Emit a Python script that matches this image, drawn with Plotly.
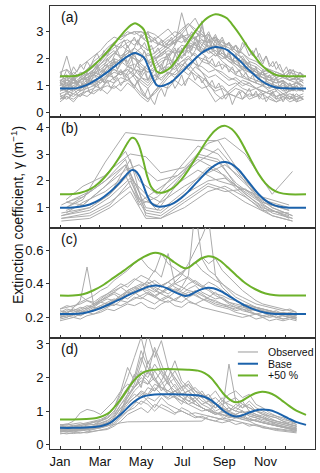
import plotly.graph_objects as go
from plotly.subplots import make_subplots

# month ticks (day of year)
MAJOR_DAYS = [1, 60, 121, 182, 244, 305]
MAJOR_LABELS = ["Jan", "Mar", "May", "Jul", "Sep", "Nov"]
MINOR_DAYS = [32, 91, 152, 213, 274, 335]

# ---- panel (a) ----
days_a = list(range(1, 362, 10))
obs_a = [
    [1.0, 1.1, 0.9, 1.2, 1.3, 1.5, 1.4, 1.7, 1.9, 1.8, 2.1, 2.0, 1.9, 2.2, 2.0, 2.1, 2.3, 2.2, 2.5, 2.4, 2.6, 2.3, 2.5, 2.2, 2.0, 2.1, 1.8, 1.7, 1.5, 1.4, 1.3, 1.2, 1.1, 1.2, 1.0, 1.1, 1.0],
    [1.2, 1.3, 1.2, 1.4, 1.6, 1.9, 2.1, 2.4, 2.6, 2.8, 3.0, 2.9, 3.0, 2.8, 2.6, 2.5, 2.7, 2.6, 2.8, 2.9, 2.7, 2.6, 2.4, 2.5, 2.2, 2.0, 1.9, 1.7, 1.6, 1.4, 1.5, 1.3, 1.2, 1.3, 1.2, 1.1, 1.2],
    [0.6, 0.5, 0.7, 0.6, 0.8, 0.7, 0.9, 1.0, 0.9, 1.1, 1.2, 1.0, 1.3, 1.1, 1.4, 1.2, 1.5, 1.3, 1.6, 1.4, 1.7, 1.5, 1.3, 1.4, 1.2, 1.0, 1.1, 0.9, 0.8, 0.9, 0.7, 0.8, 0.6, 0.7, 0.6, 0.5, 0.6],
    [1.3, 2.1, 1.2, 1.1, 1.3, 1.4, 1.6, 1.8, 2.0, 1.9, 1.7, 1.6, 1.5, 1.8, 2.0, 2.2, 2.4, 2.6, 2.9, 3.2, 3.5, 3.0, 2.7, 2.5, 2.3, 2.0, 1.8, 1.6, 1.5, 1.4, 1.3, 1.2, 1.4, 1.3, 1.2, 1.3, 1.1],
    [0.9, 0.8, 1.0, 0.9, 1.1, 1.3, 1.5, 1.7, 1.8, 2.0, 1.9, 2.2, 2.1, 1.9, 1.8, 2.0, 2.1, 2.3, 2.2, 2.4, 2.6, 2.7, 2.4, 2.3, 2.1, 1.9, 1.7, 1.4, 1.2, 1.1, 1.0, 0.9, 1.0, 0.8, 0.9, 0.8, 0.9],
    [0.5, 0.6, 0.4, 0.7, 0.6, 0.8, 0.9, 0.7, 1.0, 0.8, 1.1, 0.9, 0.6, 0.4, 0.8, 1.0, 0.9, 1.2, 1.0, 1.3, 1.1, 0.9, 1.0, 0.8, 0.9, 0.7, 0.6, 0.8, 0.5, 0.6, 0.7, 0.5, 0.4, 0.6, 0.5, 0.7, 0.5],
    [1.4, 1.2, 1.5, 1.3, 1.6, 1.8, 2.0, 2.3, 2.5, 2.4, 2.6, 2.7, 2.5, 2.3, 2.4, 2.6, 2.8, 3.0, 2.9, 2.7, 2.8, 2.9, 2.6, 2.7, 2.5, 2.4, 2.2, 2.0, 1.8, 1.7, 1.5, 1.6, 1.4, 1.3, 1.5, 1.4, 1.3],
    [1.1, 1.0, 1.2, 1.0, 1.1, 1.2, 1.3, 1.5, 1.6, 1.4, 1.7, 1.8, 1.6, 1.5, 1.7, 1.9, 2.0, 1.8, 2.1, 2.3, 2.1, 2.0, 1.9, 1.7, 1.8, 1.6, 1.4, 1.3, 1.2, 1.1, 1.0, 1.1, 0.9, 1.0, 0.9, 1.0, 0.8],
    [0.8, 0.9, 1.1, 1.0, 1.2, 1.4, 1.3, 1.6, 1.8, 2.0, 2.2, 2.0, 1.7, 1.5, 1.6, 1.8, 2.1, 2.5, 3.7, 2.8, 2.5, 2.2, 2.0, 2.2, 1.9, 1.7, 1.5, 1.6, 1.3, 1.2, 1.1, 1.0, 0.9, 1.1, 0.8, 0.9, 0.8],
    [0.7, 0.8, 0.7, 0.9, 1.0, 1.1, 1.2, 1.1, 1.3, 1.5, 1.4, 1.6, 1.3, 1.2, 1.4, 1.6, 1.8, 1.9, 1.7, 2.0, 2.2, 1.9, 1.8, 1.6, 1.5, 1.3, 1.2, 1.0, 1.1, 0.9, 0.8, 0.7, 0.8, 0.6, 0.7, 0.6, 0.7],
    [1.2, 1.1, 1.3, 1.4, 1.5, 1.7, 2.0, 2.3, 2.6, 2.8, 2.9, 3.0, 3.0, 2.9, 2.7, 2.5, 2.4, 2.2, 2.3, 2.5, 2.4, 2.2, 2.3, 2.1, 2.2, 2.0, 1.9, 2.1, 1.7, 1.6, 1.4, 1.5, 1.3, 1.4, 1.2, 1.3, 1.1],
    [1.0, 1.2, 1.1, 1.3, 1.2, 1.4, 1.7, 1.9, 2.2, 2.1, 2.3, 2.2, 2.4, 2.1, 2.2, 2.4, 2.6, 2.8, 3.1, 3.3, 3.0, 2.8, 2.9, 2.6, 2.4, 2.3, 2.5, 2.2, 1.9, 1.8, 1.6, 1.5, 1.3, 1.4, 1.2, 1.3, 1.2],
    [0.8, 0.9, 0.8, 1.0, 1.1, 1.0, 1.2, 1.4, 1.3, 1.5, 1.6, 1.4, 1.2, 1.0, 1.3, 1.5, 1.7, 1.6, 1.9, 2.0, 1.8, 1.7, 1.5, 1.6, 1.4, 1.2, 1.3, 1.1, 1.0, 0.9, 1.0, 0.8, 0.9, 0.7, 0.8, 0.9, 0.8],
    [1.3, 1.4, 1.2, 1.5, 1.4, 1.6, 1.9, 2.2, 2.4, 2.6, 2.7, 2.5, 2.8, 3.0, 2.9, 2.7, 2.5, 2.6, 2.8, 2.6, 2.5, 2.4, 2.2, 2.3, 2.1, 1.9, 1.8, 1.6, 1.7, 1.5, 1.4, 1.3, 1.5, 1.4, 1.3, 1.2, 1.4],
    [0.4, 0.6, 0.5, 0.7, 0.8, 0.9, 1.1, 1.3, 1.5, 1.4, 1.6, 1.3, 0.9, 0.5, 0.7, 1.0, 1.3, 1.5, 1.8, 1.6, 1.4, 1.2, 0.8, 0.4, 0.6, 0.7, 0.9, 0.8, 0.6, 0.7, 0.5, 0.6, 0.4, 0.5, 0.6, 0.4, 0.5],
    [1.1, 0.9, 1.0, 1.2, 1.4, 1.6, 1.8, 2.1, 2.3, 2.0, 2.2, 2.4, 2.2, 1.9, 2.1, 2.3, 2.5, 2.7, 2.6, 2.8, 3.0, 2.7, 2.6, 2.8, 2.4, 2.3, 2.0, 1.9, 1.7, 1.5, 1.3, 1.2, 1.1, 1.2, 1.0, 1.1, 1.0],
    [0.6, 0.7, 0.9, 0.8, 1.0, 1.2, 1.1, 1.4, 1.6, 1.5, 1.3, 1.0, 0.7, 0.5, 0.8, 1.1, 1.4, 1.7, 1.9, 2.1, 1.8, 1.5, 1.1, 0.7, 0.5, 0.8, 1.0, 1.2, 1.1, 0.9, 0.8, 0.7, 0.6, 0.7, 0.5, 0.6, 0.5],
    [1.5, 1.6, 1.4, 1.7, 1.9, 2.1, 2.3, 2.6, 2.8, 2.7, 2.9, 3.0, 2.8, 2.6, 2.7, 2.9, 3.1, 2.8, 3.0, 3.3, 3.1, 2.9, 2.7, 2.8, 2.6, 2.5, 2.3, 2.2, 2.0, 1.9, 1.7, 1.6, 1.5, 1.4, 1.6, 1.5, 1.4],
    [0.9, 1.0, 1.1, 1.2, 1.4, 1.5, 1.8, 2.0, 2.2, 2.5, 2.3, 2.1, 1.8, 1.6, 1.9, 2.2, 2.4, 2.7, 2.9, 2.6, 2.8, 2.5, 2.3, 2.1, 2.4, 2.6, 2.3, 2.0, 1.7, 1.5, 1.3, 1.1, 1.0, 0.9, 1.0, 0.9, 0.8],
    [0.5, 0.7, 0.6, 0.8, 0.9, 1.0, 0.9, 1.2, 1.1, 1.3, 1.2, 1.4, 1.1, 0.9, 1.2, 1.3, 1.5, 1.4, 1.6, 1.8, 1.5, 1.3, 1.1, 0.9, 1.0, 0.7, 0.6, 0.5, 0.7, 0.6, 0.8, 0.7, 0.5, 0.6, 0.4, 0.5, 0.6],
]
# a few records sampled every 5 days
days_a_fine = list(range(1, 362, 5))
obs_a_fine = [
    [1.0, 1.2, 0.9, 1.1, 1.3, 1.0, 1.2, 1.4, 1.1, 1.3, 1.5, 1.2, 1.4, 1.6, 1.3, 1.7, 1.9, 1.6, 1.8, 2.0,
     1.7, 1.9, 2.2, 1.8, 2.0, 2.3, 1.9, 1.7, 2.1, 1.8, 1.6, 2.0, 2.2, 1.9, 2.1, 2.4, 2.0, 2.2, 2.5, 2.1,
     2.3, 2.6, 2.2, 2.4, 2.7, 2.3, 2.5, 2.2, 2.4, 2.0, 2.2, 1.9, 2.1, 1.8, 1.6, 1.9, 1.7, 1.5, 1.6, 1.4,
     1.5, 1.3, 1.4, 1.2, 1.3, 1.1, 1.2, 1.0, 1.1, 0.9, 1.0, 1.1, 0.9],
    [0.7, 0.5, 0.8, 0.6, 0.9, 0.7, 0.6, 0.8, 1.0, 0.7, 0.9, 1.1, 0.8, 1.0, 1.2, 0.9, 1.1, 1.3, 1.0, 1.2,
     1.4, 1.1, 0.9, 1.2, 0.8, 0.6, 0.9, 0.5, 0.3, 0.7, 0.9, 0.6, 1.0, 1.2, 0.9, 1.1, 1.4, 1.0, 1.3, 1.5,
     1.2, 1.4, 1.1, 1.3, 1.0, 1.2, 0.9, 1.1, 0.8, 0.5, 0.7, 0.3, 0.6, 0.8, 0.5, 0.7, 0.9, 0.6, 0.8, 0.5,
     0.7, 0.4, 0.6, 0.8, 0.5, 0.7, 0.4, 0.6, 0.5, 0.7, 0.4, 0.6, 0.5],
    [1.5, 1.3, 1.6, 1.4, 1.7, 1.5, 1.8, 1.6, 1.9, 1.7, 2.0, 2.2, 1.9, 2.3, 2.1, 2.4, 2.6, 2.3, 2.5, 2.7,
     2.4, 2.6, 2.8, 2.5, 2.9, 2.7, 3.0, 2.6, 2.8, 2.5, 2.7, 2.4, 2.6, 2.8, 2.5, 2.7, 2.9, 2.6, 2.8, 3.0,
     2.7, 2.9, 3.2, 2.8, 3.0, 2.7, 2.9, 2.6, 2.8, 2.5, 2.6, 2.3, 2.5, 2.2, 2.6, 2.4, 2.1, 2.3, 2.0, 2.2,
     1.9, 2.1, 1.8, 1.7, 1.9, 1.6, 1.5, 1.7, 1.4, 1.6, 1.3, 1.5, 1.4],
    [1.2, 0.9, 1.4, 1.0, 1.3, 1.1, 0.8, 1.2, 1.5, 1.1, 1.4, 1.7, 1.2, 1.5, 1.8, 1.4, 2.0, 1.6, 1.9, 2.2,
     1.8, 2.1, 1.6, 1.9, 1.4, 1.7, 1.2, 1.5, 1.1, 1.4, 1.8, 1.5, 2.0, 1.7, 2.2, 1.9, 2.4, 2.1, 2.6, 2.3,
     2.8, 2.5, 3.4, 2.6, 2.9, 2.4, 2.7, 2.2, 2.5, 2.0, 2.3, 1.9, 2.2, 1.8, 2.0, 1.6, 1.9, 1.5, 1.7, 1.3,
     1.6, 1.2, 1.4, 1.1, 1.3, 0.9, 1.2, 0.8, 1.1, 0.9, 1.2, 1.0, 0.8],
    [0.9, 1.0, 0.8, 1.1, 0.9, 1.0, 1.2, 0.9, 1.1, 1.3, 1.0, 1.2, 1.4, 1.1, 1.3, 1.5, 1.2, 1.4, 1.6, 1.3,
     1.5, 1.7, 1.4, 1.6, 1.3, 1.5, 1.2, 1.4, 1.6, 1.3, 1.5, 1.7, 1.4, 1.6, 1.8, 1.5, 1.7, 1.9, 1.6, 1.8,
     2.0, 1.7, 1.9, 2.1, 1.8, 2.0, 1.7, 1.9, 1.6, 1.8, 1.5, 1.7, 1.4, 1.6, 1.3, 1.5, 1.2, 1.4, 1.1, 1.3,
     1.0, 1.2, 0.9, 1.1, 0.8, 1.0, 0.9, 0.7, 0.9, 0.8, 1.0, 0.8, 0.9],
    [1.1, 1.3, 1.0, 1.2, 1.4, 1.1, 1.3, 1.5, 1.2, 1.4, 1.6, 1.8, 1.5, 1.7, 2.0, 1.8, 2.1, 2.3, 2.0, 2.2,
     2.5, 2.2, 2.4, 2.7, 2.4, 2.6, 2.3, 2.5, 2.2, 2.4, 2.1, 2.3, 2.0, 2.2, 2.4, 2.1, 2.3, 2.5, 2.2, 2.4,
     2.6, 2.3, 2.5, 2.7, 2.4, 2.6, 2.8, 2.5, 2.7, 2.4, 2.6, 2.3, 2.5, 2.2, 2.4, 2.6, 2.3, 2.1, 2.4, 2.0,
     1.8, 2.1, 1.7, 1.9, 1.6, 1.8, 1.5, 1.3, 1.6, 1.4, 1.2, 1.5, 1.3],
]
base_days_a = [1, 15, 26, 40, 50, 60, 72, 85, 97, 106, 112, 118, 125, 130, 135, 140, 144, 150, 156, 165, 174, 186, 199, 210, 219, 231, 240, 248, 258, 268, 278, 288, 298, 308, 318, 327, 340, 365]
base_a = [0.90, 0.90, 0.91, 1.02, 1.15, 1.31, 1.52, 1.78, 2.02, 2.16, 2.21, 2.16, 2.05, 1.80, 1.47, 1.18, 1.02, 0.98, 1.02, 1.12, 1.32, 1.62, 1.95, 2.20, 2.34, 2.43, 2.40, 2.33, 2.13, 1.90, 1.64, 1.41, 1.20, 1.05, 0.95, 0.91, 0.90, 0.90]

# ---- panel (b) ----
days_b1 = [3, 45, 75, 105, 128, 150, 185, 220, 245, 275, 315, 345]
days_b2 = [10, 35, 68, 98, 118, 145, 175, 205, 235, 262, 300, 340]
obs_b = [
    [0.8, 1.0, 1.5, 2.3, 1.0, 0.9, 1.6, 2.5, 2.2, 1.5, 0.8, 0.6],
    [1.2, 1.4, 2.0, 2.8, 1.3, 1.1, 2.0, 3.0, 2.8, 1.8, 1.0, 0.7],
    [0.6, 0.8, 1.2, 1.8, 0.8, 0.7, 1.3, 1.9, 1.7, 1.2, 0.7, 0.5],
    [1.0, 1.3, 2.7, 3.8, None, None, None, 3.5, 3.5, 2.5, 1.2, 0.9],
    [0.7, 0.9, 1.4, 2.1, 1.5, 1.2, 1.8, 2.3, 2.6, 2.0, 1.0, 0.7],
    [1.3, 1.8, 2.2, 3.1, 2.0, 1.5, 2.4, 3.3, 3.0, 2.2, 1.3, 1.0],
    [0.5, 0.6, 1.0, 1.6, 0.6, 0.6, 1.0, 1.6, 1.8, 1.4, 0.7, 0.5],
    [0.9, 1.1, 1.8, 2.6, 1.2, None, 2.2, 2.8, 2.4, 1.7, 0.9, 0.8],
    [1.1, 1.6, 2.4, 3.0, 2.9, 2.3, 2.5, 3.4, 3.6, 3.0, 1.5, 2.35],
    [0.8, 1.2, 1.6, 2.2, 1.1, 1.4, 2.1, 2.7, 3.2, 2.4, 1.1, 0.6],
    [0.6, 0.7, 1.1, 2.0, 0.9, 0.8, 1.5, 2.0, 2.1, 1.6, 0.9, 0.6],
    [1.0, 1.4, 2.0, 2.6, 1.6, 0.9, 1.9, 2.4, 2.0, 1.8, 1.4, 1.1],
    [0.7, 1.0, 1.5, 2.8, 0.7, 0.6, 1.2, 1.8, 1.6, 1.7, 1.0, 0.7],
    [1.2, 1.1, 1.8, 2.4, 2.6, 2.0, 2.2, 2.9, 2.7, 1.9, 1.2, 0.9],
]
base_days_b = [1, 15, 30, 45, 60, 75, 90, 100, 107, 112, 118, 124, 130, 136, 143, 152, 160, 170, 180, 190, 200, 210, 220, 230, 240, 246, 255, 265, 275, 285, 295, 305, 315, 325, 340, 365]
base_b = [1.00, 1.00, 1.03, 1.12, 1.30, 1.58, 1.95, 2.25, 2.40, 2.38, 2.20, 1.85, 1.45, 1.18, 1.06, 1.04, 1.08, 1.18, 1.35, 1.58, 1.85, 2.12, 2.38, 2.58, 2.69, 2.70, 2.62, 2.42, 2.12, 1.80, 1.50, 1.27, 1.12, 1.04, 1.00, 1.00]

# ---- panel (c) ----
days_c = list(range(1, 352, 10))
obs_c = [
    [.22, .24, .23, .25, .27, .26, .29, .31, .30, .33, .35, .34, .37, .36, .33, .35, .38, .36, .34, .37, .39, .35, .33, .31, .32, .29, .28, .27, .25, .26, .24, .23, .24, .22, .23, .22],
    [.20, .22, .26, .30, .50, .27, .30, .32, .34, .31, .36, .38, .40, .37, .35, .39, .41, .38, .36, .40, .42, .39, .37, .34, .33, .31, .30, .28, .27, .26, .25, .24, .23, .22, .21, .20],
    [.25, .27, .26, .29, .31, .33, .36, .38, .42, .45, .48, .52, .55, .50, .47, .58, .52, .49, .46, .50, .53, .48, .45, .42, .40, .37, .34, .32, .30, .28, .27, .26, .25, .24, .25, .23],
    [.21, .20, .22, .21, .23, .24, .26, .28, .27, .30, .29, .32, .31, .34, .33, .30, .32, .35, .38, .45, .85, .55, .48, .45, .40, .36, .32, .30, .28, .26, .25, .24, .23, .22, .21, .20],
    [.18, .19, .20, .19, .21, .22, .23, .25, .24, .26, .28, .27, .29, .26, .25, .28, .30, .27, .26, .29, .28, .26, .25, .24, .23, .22, .21, .20, .21, .19, .20, .18, .19, .18, .19, .18],
    [.24, .23, .25, .24, .26, .28, .30, .33, .35, .38, .40, .43, .41, .39, .36, .34, .37, .40, .42, .44, .41, .38, .36, .33, .31, .29, .27, .26, .25, .24, .23, .24, .22, .23, .22, .21],
    [.20, .21, .22, .24, .23, .25, .27, .29, .31, .30, .33, .35, .32, .30, .28, .31, .33, .30, .29, .32, .34, .31, .29, .27, .26, .25, .23, .22, .21, .22, .20, .21, .20, .19, .20, .19],
    [None, None, None, .33, .30, .28, .31, .34, .37, .40, .38, .42, .45, .43, .40, .38, .41, .44, .46, .43, .40, .38, .41, .39, .36, .33, .30, .28, .27, .26, .25, .24, .23, .22, .21, .22],
    [.23, .25, .24, .26, .25, .27, .29, .28, .30, .33, .31, .34, .36, .39, .37, .34, .32, .30, .33, .35, .33, .31, .30, .28, .27, .26, .24, .25, .23, .22, .23, .21, .22, .21, .20, .21],
    [.21, .22, .21, .23, .24, .26, .25, .28, .30, .32, .34, .36, .38, .42, .48, .44, .58, .40, .38, .36, .35, .33, .31, .30, .28, .27, .26, .24, .23, .22, .21, .22, .20, .21, .20, .19],
    [.19, .20, .22, .21, .23, .22, .24, .26, .28, .27, .29, .31, .33, .35, .32, .30, .29, .31, .33, .30, .28, .30, .32, .35, .31, .28, .26, .25, .24, .22, .21, .20, .21, .19, .20, .19],
    [.22, .23, .24, .23, .25, .27, .30, .32, .35, .33, .36, .38, .36, .40, .42, .39, .41, .44, .47, .50, .53, .56, .52, .55, .48, .44, .40, .36, .33, .30, .28, .27, .26, .25, .24, .23],
    [.20, .21, .20, .22, .23, .25, .27, .26, .29, .31, .33, .35, .37, .34, .32, .35, .38, .41, .45, .52, .60, .68, .78, .45, .38, .34, .30, .28, .26, .25, .24, .23, .22, .21, .20, .20],
    [.25, .26, .27, .28, .30, .29, .32, .34, .36, .38, .35, .37, .39, .41, .38, .36, .34, .37, .35, .33, .36, .34, .31, .29, .28, .26, .25, .27, .24, .25, .23, .24, .22, .23, .22, .21],
]
base_days_c = [1, 20, 35, 50, 65, 80, 95, 110, 125, 135, 142, 150, 160, 170, 180, 186, 192, 200, 210, 220, 228, 238, 250, 262, 275, 290, 305, 320, 340, 365]
base_c = [0.220, 0.220, 0.225, 0.240, 0.262, 0.290, 0.318, 0.348, 0.373, 0.386, 0.390, 0.386, 0.372, 0.352, 0.335, 0.328, 0.332, 0.348, 0.367, 0.376, 0.373, 0.358, 0.330, 0.300, 0.270, 0.245, 0.228, 0.221, 0.220, 0.220]

# ---- panel (d) ----
days_d = list(range(1, 352, 10))
obs_d = [
    [.45, .40, .42, .48, .44, .50, .55, .60, .75, .95, 1.2, 1.4, 1.6, 1.5, 1.8, 1.7, 1.6, 1.5, 1.4, 1.3, 1.2, 1.1, 1.0, .9, .95, 1.0, 1.1, 1.0, .9, .85, .8, .7, .65, .6, .55, .5],
    [.50, .55, .52, .58, .62, .60, .70, .85, 1.1, 1.5, 2.0, 2.6, 3.2, 2.4, 2.8, 2.2, 2.0, 2.5, 1.9, 1.7, 1.5, 1.4, 1.2, 1.1, 1.3, 1.2, 1.1, 1.3, 1.0, .9, .8, .75, .7, .65, .6, .55],
    [.35, .32, .36, .34, .38, .40, .42, .45, .55, .70, .90, 1.0, 1.1, .95, 1.2, 1.1, 1.0, .9, 1.1, 1.0, .85, .8, .75, .7, .8, .75, .7, .65, .6, .55, .5, .45, .42, .4, .38, .35],
    [.55, .60, .70, .95, 1.05, 1.0, .9, 1.1, 1.3, 1.6, 1.8, 1.7, 2.1, 1.9, 1.6, 1.8, 2.0, 1.7, 1.5, 1.6, 1.4, 1.2, 1.3, 1.1, 1.2, 1.0, .9, 1.0, .85, .8, .75, .7, .6, .55, .5, .45],
    [.48, .45, .50, .47, .52, .55, .58, .65, .80, 1.1, 1.3, 1.5, 1.4, 1.7, 1.6, 1.9, 1.5, 1.4, 1.3, 1.5, 1.2, 1.1, 1.0, 1.2, 1.0, 2.4, 1.3, 1.1, 1.2, 1.0, .9, .8, .7, .65, .6, .55],
    [.40, .42, .45, .43, .47, .50, .52, .55, .60, .65, .68, None, None, None, None, None, None, None, None, None, None, .70, .85, .80, .75, .90, .85, .80, .75, .70, .65, .6, .55, .5, .45, .42],
    [.60, .58, .62, .65, .60, .68, .72, .80, 1.0, 1.3, 1.6, 1.9, 2.2, 2.0, 2.4, 2.1, 1.8, 2.0, 1.7, 1.8, 1.6, 1.4, 1.5, 1.2, 1.1, 1.0, 1.2, 1.1, 1.3, 1.1, 1.0, .9, .85, .8, .7, .65],
    [.42, .45, .40, .44, .48, .46, .50, .58, .70, 1.0, 1.4, 1.8, 2.4, 3.3, 2.6, 3.1, 2.3, 1.9, 1.6, 1.8, 1.5, 1.3, 1.2, 1.0, 1.1, .95, .9, 1.0, .85, .8, .7, .65, .6, .55, .5, .48],
    [.50, .48, .46, .50, .55, .52, .58, .62, .75, .90, 1.1, 1.3, 1.2, 1.4, 1.3, 1.5, 1.4, 1.6, 1.5, 1.3, 1.4, 1.2, 1.1, .95, .9, .85, .9, .8, .95, .85, .8, .7, .65, .6, .55, .5],
    [.38, .40, .38, .42, .45, .48, .50, .55, .65, .85, 1.0, 1.2, 1.5, 1.3, 1.1, 1.4, 1.2, 1.1, 1.0, .9, .95, .9, .85, .8, .75, .7, .8, .75, .7, .6, .55, .5, .48, .45, .42, .4],
    [.52, .50, .55, .53, .58, .60, .65, .72, .85, 1.2, 1.5, 1.7, 1.9, 1.8, 2.0, 1.7, 1.6, 1.8, 1.5, 1.6, 1.7, 1.5, 1.4, 1.6, 1.3, 1.5, 1.6, 1.4, 1.5, 1.2, 1.1, .95, .85, .75, .7, .6],
    [.45, .47, .43, .46, .50, .53, .55, .60, .70, .95, 1.3, 1.6, 1.8, 2.2, 1.9, 1.7, 1.5, 1.6, 1.4, 1.2, 1.3, 1.1, 1.0, .9, 1.0, .85, .8, .9, .75, .7, .65, .6, .55, .5, .47, .45],
    [.55, .53, .58, .56, .62, .65, .70, .78, .95, 1.4, 1.7, 2.0, 2.8, 2.3, 1.9, 2.2, 1.8, 1.6, 1.7, 1.4, 1.3, 1.5, 1.3, 1.2, 1.0, 1.1, 1.0, .95, 1.0, .9, .85, .75, .7, .65, .6, .55],
    [.48, .46, .49, .51, .48, .55, .60, .66, .80, 1.1, 1.25, 1.4, 1.55, 1.45, 1.7, 1.5, 1.35, 1.45, 1.3, 1.2, 1.1, 1.0, 1.05, .95, .9, .8, .85, .75, .8, .7, .65, .6, .55, .52, .5, .48],
    [.40, .38, .42, .45, .40, .47, .52, .58, .72, 1.0, 1.5, 2.1, 1.7, 2.5, 2.0, 1.6, 1.9, 1.4, 1.2, 1.5, 1.3, 1.1, 1.0, .95, .85, .9, .8, .85, .7, .75, .65, .6, .55, .5, .45, .42],
    [.58, .62, .56, .60, .66, .70, .75, .85, 1.1, 1.6, 2.3, 1.9, 2.6, 2.1, 2.9, 2.4, 1.9, 2.2, 1.8, 1.6, 1.4, 1.6, 1.3, 1.2, 1.4, 1.1, 1.0, 1.2, 1.1, 1.0, .9, .85, .8, .7, .65, .6],
    [.32, .35, .33, .37, .35, .40, .43, .48, .60, .80, 1.0, 1.1, 1.3, 1.2, 1.0, 1.2, 1.1, .95, 1.0, .9, .8, .85, .75, .7, .65, .7, .6, .65, .55, .6, .5, .48, .45, .42, .4, .38],
    [.47, .50, .48, .52, .50, .56, .62, .70, .90, 1.2, 1.4, 1.7, 2.0, 1.8, 2.2, 1.9, 2.3, 2.0, 1.7, 1.9, 1.6, 1.5, 1.3, 1.4, 1.2, 1.3, 1.4, 1.2, 1.1, 1.0, .95, .85, .8, .7, .6, .55],
]
base_days_d = [1, 20, 40, 55, 65, 75, 85, 95, 105, 115, 125, 135, 150, 170, 190, 205, 215, 225, 235, 245, 255, 262, 270, 280, 290, 300, 310, 320, 330, 340, 350, 365]
base_d = [0.50, 0.50, 0.51, 0.53, 0.57, 0.65, 0.80, 0.98, 1.18, 1.34, 1.44, 1.48, 1.50, 1.50, 1.49, 1.47, 1.42, 1.32, 1.15, 0.98, 0.87, 0.84, 0.87, 0.95, 1.02, 1.05, 1.03, 0.97, 0.87, 0.77, 0.68, 0.59]

PLUS = 1.5  # "+50 %" scenario

GRAY = "#ababab"
BLUE = "#1b62ab"
GREEN = "#6cb12a"
INK = "#111"
FONT = "Arial, Liberation Sans, sans-serif"

panels = [
    ("(a)", [(days_a, v) for v in obs_a] + [(days_a_fine, v) for v in obs_a_fine],
     base_days_a, base_a, [-0.15, 3.95], [0, 1, 2, 3], None),
    ("(b)", [(days_b1 if i % 2 == 0 else days_b2, v) for i, v in enumerate(obs_b)],
     base_days_b, base_b, [0.26, 4.39], [1, 2, 3, 4], None),
    ("(c)", [(days_c, v) for v in obs_c], base_days_c, base_c, [0.076, 0.735], [0.2, 0.4, 0.6], ".1f"),
    ("(d)", [(days_d, v) for v in obs_d], base_days_d, base_d, [-0.13, 3.17], [0, 1, 2, 3], None),
]

fig = make_subplots(rows=4, cols=1, shared_xaxes=True, vertical_spacing=0)

for r, (label, series, bdays, base, yr, yticks, yfmt) in enumerate(panels, start=1):
    for dd, vals in series:
        fig.add_trace(
            go.Scatter(x=dd[:len(vals)], y=vals, mode="lines", connectgaps=True,
                       line=dict(color=GRAY, width=1), showlegend=False, hoverinfo="skip"),
            row=r, col=1,
        )
    fig.add_trace(
        go.Scatter(x=bdays, y=base, mode="lines", showlegend=False,
                   line=dict(color=BLUE, width=2, shape="spline", smoothing=0.8)),
        row=r, col=1,
    )
    fig.add_trace(
        go.Scatter(x=bdays, y=[b * PLUS for b in base], mode="lines", showlegend=False,
                   line=dict(color=GREEN, width=2, shape="spline", smoothing=0.8)),
        row=r, col=1,
    )
    fig.update_yaxes(
        range=yr, tickvals=yticks, tickformat=yfmt, ticks="outside", ticklen=3, tickcolor="#333",
        showline=True, linecolor="#333", linewidth=1, mirror=True, showgrid=False, zeroline=False,
        tickfont=dict(size=13, color=INK), row=r, col=1,
    )
    fig.update_xaxes(
        range=[-13.8, 378.3], tickvals=MAJOR_DAYS, ticktext=MAJOR_LABELS, ticks="inside", ticklen=3,
        tickcolor="#333",
        minor=dict(tickvals=MINOR_DAYS, ticks="inside", ticklen=3, tickcolor="#333"),
        showline=True, linecolor="#333", linewidth=1, mirror=True, showgrid=False, zeroline=False,
        tickfont=dict(size=13, color=INK), row=r, col=1,
    )
    sfx = "" if r == 1 else str(r)
    fig.add_annotation(
        text=label, xref=f"x{sfx} domain", yref=f"y{sfx} domain", x=0.035, y=0.99,
        xanchor="left", yanchor="top", showarrow=False, font=dict(size=14, color=INK),
    )

# legend drawn inside panel (d)
legend_items = [("Observed", GRAY, 1.2, 0.876), ("Base", BLUE, 2, 0.770), ("+50 %", GREEN, 2, 0.664)]
for name, col, w, yy in legend_items:
    fig.add_shape(type="line", xref="x4 domain", yref="y4 domain", x0=0.709, x1=0.785, y0=yy, y1=yy,
                  line=dict(color=col, width=w))
    fig.add_annotation(text=name, xref="x4 domain", yref="y4 domain", x=0.815, y=yy,
                       xanchor="left", yanchor="middle", showarrow=False, font=dict(size=10.5, color=INK))

fig.add_annotation(
    text="Extinction coefficient, γ (m<sup>−1</sup>)", xref="paper", yref="paper",
    x=-0.1245, y=0.528, xanchor="center", yanchor="middle", textangle=-90, showarrow=False,
    font=dict(size=14, color=INK),
)

fig.update_layout(
    width=320, height=473,
    margin=dict(l=50, r=5, t=4, b=20),
    plot_bgcolor="white", paper_bgcolor="white",
    font=dict(family=FONT, color=INK),
    showlegend=False,
)

fig.write_html("out.html", config={"displayModeBar": False},
               post_script="document.body.style.margin='0';")
